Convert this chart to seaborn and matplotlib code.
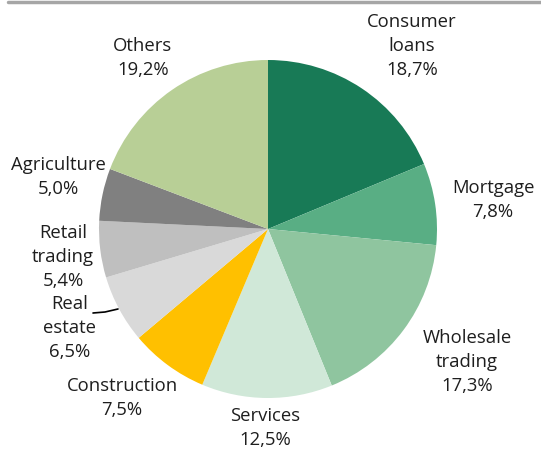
import matplotlib
matplotlib.use("Agg")
import matplotlib.pyplot as plt
import seaborn as sns

sns.set_theme(style="white")
plt.rcParams['font.family'] = ['Open Sans', 'DejaVu Sans']

# Loan portfolio breakdown by sector (%)
sectors = ["Consumer\nloans", "Mortgage", "Wholesale\ntrading", "Services",
           "Construction", "Real\nestate", "Retail\ntrading", "Agriculture", "Others"]
shares = [18.7, 7.8, 17.3, 12.5, 7.5, 6.5, 5.4, 5.0, 19.2]
colors = ["#187a56", "#59ae84", "#8fc59f", "#d0e8d8", "#ffc000",
          "#d9d9d9", "#bfbfbf", "#808080", "#b8cf96"]

# Label anchor positions in figure pixel space (x, y from top)
label_pos = [(412, 46), (493, 200), (467, 362), (265, 428), (122, 398),
             (70, 328), (63, 257), (58, 177), (143, 58)]

W, H = 541, 450
fig = plt.figure(figsize=(W / 100, H / 100), dpi=100)
ax = fig.add_axes([0, 0, 1, 1])

cx, cy, r = 268, 229, 169
ax.pie(shares, colors=colors, startangle=90, counterclock=False,
       center=(cx, H - cy), radius=r, frame=True,
       wedgeprops=dict(linewidth=0))
ax.set_xlim(0, W)
ax.set_ylim(0, H)
ax.set_aspect("equal")
ax.axis("off")

for name, val, (x, y) in zip(sectors, shares, label_pos):
    txt = f"{name}\n{val:.1f}%".replace(".", ",")
    ax.text(x, H - y, txt, ha="center", va="center", fontsize=13.3,
            color="#1e1e1e", linespacing=1.4)

# Leader line for the real-estate label
ax.plot([93, 105, 118], [H - 313, H - 312, H - 309], color="black", lw=1.2)

# Rule across the top
ax.plot([8, W], [H - 2, H - 2], color="#a6a6a6", lw=2.5, clip_on=False)

fig.savefig("out.png", dpi=100)
